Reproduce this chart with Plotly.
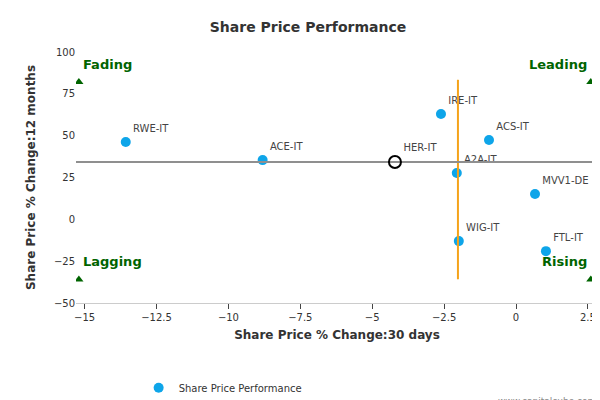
import plotly.graph_objects as go

names = ["RWE-IT", "ACE-IT", "IRE-IT", "ACS-IT", "A2A-IT", "MVV1-DE", "WIG-IT", "FTL-IT"]
chg_30d = [-13.57, -8.81, -2.61, -0.94, -2.06, 0.66, -1.99, 1.04]
chg_12m = [46.2, 35.4, 62.9, 47.4, 27.7, 15.1, -13.0, -19.0]
her = ("HER-IT", -4.21, 34.3)
median_30d = -2.02
median_12m = 34.3
median_y_span = [-35.7, 83.3]
median_x_span = [-15.3, 2.7]
quadrants = ["Fading", "Leading", "Lagging", "Rising"]
quad_x = [-15.2, 2.6, -15.2, 2.6]
quad_y = [82, 82, -36, -36]

fig = go.Figure()
fig.add_trace(go.Scatter(x=chg_30d, y=chg_12m, mode="markers+text", text=names,
                         textposition="top right", textfont=dict(size=10, color="#444"),
                         marker=dict(color="#0ea5e9", size=10),
                         name="Share Price Performance"))
fig.add_trace(go.Scatter(x=[median_30d] * 2, y=median_y_span, mode="lines+markers",
                         line=dict(color="#f5a31a", width=2), marker=dict(size=1),
                         name="Peer Median 30 Day Share Price Change %"))
fig.add_trace(go.Scatter(x=median_x_span, y=[median_12m] * 2, mode="lines",
                         line=dict(color="#8f8f8f", width=2),
                         name="Peer Median 12 Month Share Price Change %"))
fig.add_trace(go.Scatter(x=[her[1]], y=[her[2]], mode="markers+text", text=[her[0]],
                         textposition="top right", textfont=dict(size=10, color="#444"),
                         marker=dict(color="rgba(0,0,0,0)", size=12,
                                     line=dict(color="black", width=2)),
                         showlegend=False))
fig.add_trace(go.Scatter(x=quad_x, y=quad_y, mode="markers",
                         marker=dict(symbol="triangle-up", color="#006400", size=8),
                         showlegend=False, hoverinfo="skip"))
for q, qx, qy in zip(quadrants, quad_x, quad_y):
    fig.add_annotation(x=qx, y=qy, text="<b>%s</b>" % q, showarrow=False,
                       xanchor="left" if qx < 0 else "right", yshift=18,
                       xshift=2 if qx < 0 else -2,
                       font=dict(color="#006400", size=13))

fig.update_layout(
    width=600, height=400, template="plotly_white",
    font=dict(family="DejaVu Sans", color="#333"),
    title=dict(text="<b>Share Price Performance</b>", x=0.5, y=0.965, font=dict(size=14)),
    margin=dict(l=68, r=10, t=44, b=105, autoexpand=False),
    plot_bgcolor="white",
    legend=dict(orientation="h", x=0.12, y=-0.28, xanchor="left", yanchor="top",
                entrywidth=280, font=dict(size=10), tracegroupgap=0),
    xaxis=dict(range=[-15.3, 2.85], tickvals=[-15, -12.5, -10, -7.5, -5, -2.5, 0, 2.5],
               showgrid=False, zeroline=False, showline=True, linecolor="#ccc",
               ticks="outside", tickfont=dict(size=10),
               title=dict(text="<b>Share Price % Change:30 days</b>", font=dict(size=12),
                          standoff=8)),
    yaxis=dict(range=[-50, 100], dtick=25, showgrid=False, zeroline=False,
               tickfont=dict(size=10),
               title=dict(text="<b>Share Price % Change:12 months</b>", font=dict(size=12))),
)
fig.add_annotation(text="www.capitalcube.com", xref="paper", yref="paper", x=1, y=-0.42,
                   showarrow=False, xanchor="right", font=dict(size=9, color="#888"))
fig.write_html("out.html")
